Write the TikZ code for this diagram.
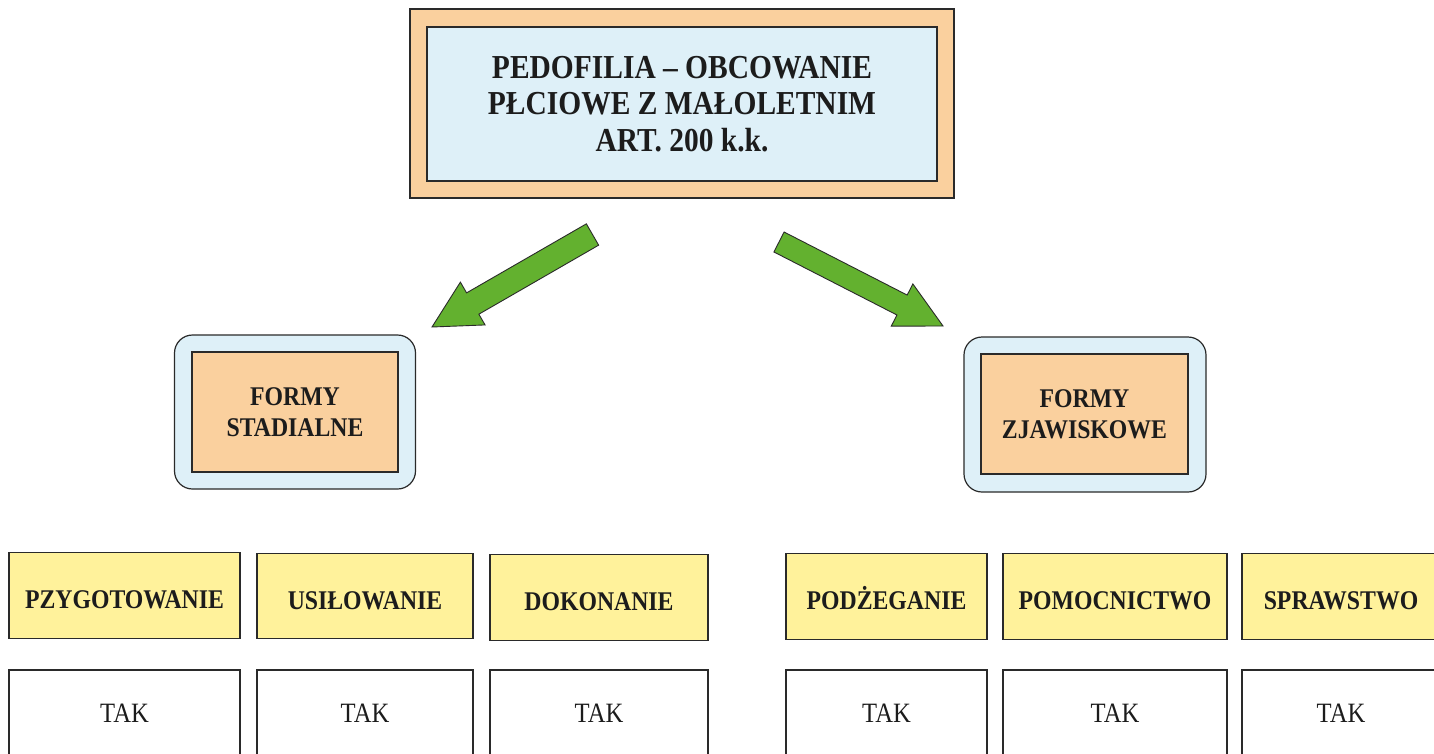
\documentclass[tikz,border=0pt]{standalone}
\usepackage{fontspec}
\setmainfont{Liberation Serif}[FakeStretch=0.88]
\usetikzlibrary{calc}
\definecolor{peach}{HTML}{FAD09E}
\definecolor{lightblue}{HTML}{DEF0F8}
\definecolor{paleyellow}{HTML}{FFF29B}
\definecolor{arrowgreen}{HTML}{63B12F}
\definecolor{boxline}{HTML}{2A2A2A}
\definecolor{inktext}{HTML}{1C1C1C}
\newcommand\blockarrow[5]{%
  \coordinate (#1h) at ($(#2)!#5!(#1)$);
  \draw[greenarrow] ($(#1)!#3!90:(#2)$) -- ($(#1h)!#3!90:(#2)$) -- ($(#1h)!#4!90:(#2)$)
    -- (#2) -- ($(#1h)!#4!-90:(#2)$) -- ($(#1h)!#3!-90:(#2)$) -- ($(#1)!#3!-90:(#2)$) -- cycle;}
\begin{document}
\begin{tikzpicture}[x=1pt,y=-1pt,
  box/.style={draw=boxline,line width=1.2pt,inner sep=0pt,outer sep=0pt},
  titletext/.style={font=\fontsize{33.5}{36.5}\selectfont\bfseries,align=center,text=inktext},
  midtext/.style={font=\fontsize{27}{31}\selectfont\bfseries,align=center,text=inktext},
  stagebox/.style={box,fill=paleyellow,minimum height=85.5pt,
    font=\fontsize{27}{30}\selectfont\bfseries,text=inktext,text height=26.9pt,text depth=0pt},
  answerbox/.style={box,fill=white,minimum height=86pt,
    font=\fontsize{28}{30}\selectfont,text=inktext,text height=18.5pt,text depth=0pt},
  greenarrow/.style={fill=arrowgreen,draw=boxline,line width=0.9pt,line join=miter}]
\useasboundingbox (0,0) rectangle (1434,753);
\clip (0,0) rectangle (1434,753);
\fill[white] (0,0) rectangle (1434,753);
% top
\node[box,fill=peach,minimum width=544pt,minimum height=189pt] (topouter) at (682,103.5) {};
\node[box,fill=lightblue,minimum width=510pt,minimum height=154pt,titletext] (top) at (682,104)
  {PEDOFILIA – OBCOWANIE\\PŁCIOWE Z MAŁOLETNIM\\ART. 200 k.k.};
% middle
\node[box,fill=lightblue,rounded corners=18pt,minimum width=241pt,minimum height=154pt] (leftouter) at (295,412) {};
\node[box,fill=peach,minimum width=206pt,minimum height=120pt,midtext] (left) at (295,412) {FORMY\\STADIALNE};
\node[box,fill=lightblue,rounded corners=18pt,minimum width=242pt,minimum height=155pt] (rightouter) at (1085,414.5) {};
\node[box,fill=peach,minimum width=207pt,minimum height=120pt,midtext] (right) at (1084.5,414) {FORMY\\ZJAWISKOWE};
% arrows
\coordinate (lat) at (592.5,234.5);
\coordinate (lah) at (432,327);
\coordinate (rat) at (779,242);
\coordinate (rah) at (943,326);
\blockarrow{lat}{lah}{12.3pt}{24.7pt}{47pt}
\blockarrow{rat}{rah}{11.2pt}{23.7pt}{46pt}
% stages
\node[stagebox,minimum width=231pt] (s1) at (124.5,595.5) {PZYGOTOWANIE};
\node[stagebox,minimum width=216pt] (s2) at (365,596) {USIŁOWANIE};
\node[stagebox,minimum width=218pt] (s3) at (599,597.5) {DOKONANIE};
\node[stagebox,minimum width=201pt] (s4) at (886.5,596.5) {PODŻEGANIE};
\node[stagebox,minimum width=224pt] (s5) at (1115,596.5) {POMOCNICTWO};
\node[stagebox,minimum width=198pt] (s6) at (1341,596.5) {SPRAWSTWO};
% answers
\node[answerbox,minimum width=231pt] (t1) at (124.5,713) {TAK};
\node[answerbox,minimum width=216pt] (t2) at (365,713) {TAK};
\node[answerbox,minimum width=218pt] (t3) at (599,713) {TAK};
\node[answerbox,minimum width=201pt] (t4) at (886.5,713) {TAK};
\node[answerbox,minimum width=224pt] (t5) at (1115,713) {TAK};
\node[answerbox,minimum width=198pt] (t6) at (1341,713) {TAK};
\end{tikzpicture}
\end{document}
